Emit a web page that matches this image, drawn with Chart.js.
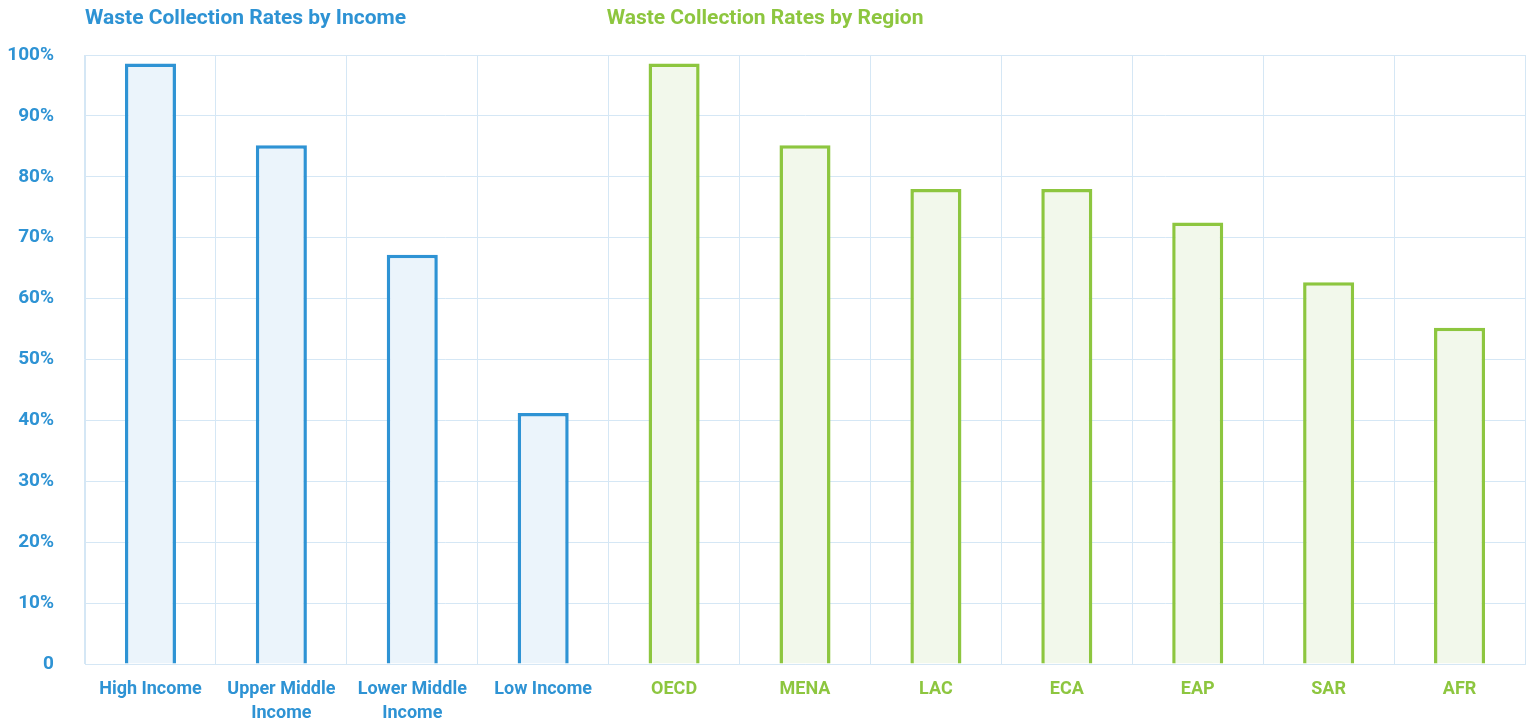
<!DOCTYPE html>
<html>
<head>
<meta charset="utf-8">
<script src="https://cdn.jsdelivr.net/npm/chart.js@4/dist/chart.umd.min.js"></script>
<style>
  html, body { margin: 0; padding: 0; background: #fff; }
  #wrap { width: 1531px; height: 721px; position: relative; }
</style>
</head>
<body>
<div id="wrap"><canvas id="chart"></canvas></div>
<script>
// Datos
const incomeGroups = [['High Income'], ['Upper Middle', 'Income'], ['Lower Middle', 'Income'], ['Low Income']];
const incomeRates = [98.6, 85.2, 67.2, 41.2];
const regionGroups = ['OECD', 'MENA', 'LAC', 'ECA', 'EAP', 'SAR', 'AFR'];
const regionRates = [98.6, 85.2, 78, 78, 72.5, 62.7, 55.2];
const yTicks = [0, 10, 20, 30, 40, 50, 60, 70, 80, 90, 100];

const BLUE = '#2e93d4';
const GREEN = '#8dc63f';
const BLUE_FILL = '#ebf4fb';
const GREEN_FILL = '#f2f8eb';
const GRID = '#d5e7f5';
const FONT = 'Roboto, "Liberation Sans", sans-serif';

const labels = [...incomeGroups, ...regionGroups];
const values = [...incomeRates, ...regionRates];
const isIncome = labels.map((_, i) => i < incomeGroups.length);

// Títulos encima de cada grupo
const groupTitles = {
    id: 'groupTitles',
    afterDraw(chart) {
        const { ctx, chartArea, scales } = chart;
        const x = scales.x;
        const half = (x.getPixelForValue(1) - x.getPixelForValue(0)) / 2;
        ctx.save();
        ctx.font = 'bold 21px ' + FONT;
        ctx.textBaseline = 'middle';
        ctx.fillStyle = BLUE;
        ctx.fillText('Waste Collection Rates by Income', chartArea.left, 19);
        ctx.fillStyle = GREEN;
        ctx.fillText('Waste Collection Rates by Region', x.getPixelForValue(incomeGroups.length) - half - 2, 19);
        ctx.restore();
    }
};

new Chart(document.getElementById('chart'), {
    type: 'bar',
    data: {
        labels: labels,
        datasets: [{
            data: values,
            backgroundColor: isIncome.map(b => b ? BLUE_FILL : GREEN_FILL),
            borderColor: isIncome.map(b => b ? BLUE : GREEN),
            borderWidth: 3.5,
            barPercentage: 0.39,
            categoryPercentage: 1
        }]
    },
    options: {
        responsive: true,
        maintainAspectRatio: false,
        animation: false,
        layout: { padding: { top: 55, right: 6, left: 0, bottom: 0 } },
        plugins: {
            legend: { display: false },
            tooltip: { enabled: false }
        },
        scales: {
            x: {
                grid: {
                    offset: true,
                    drawTicks: false,
                    color: ctx => ctx.index === labels.length ? 'rgba(0,0,0,0)' : GRID,
                    lineWidth: 1
                },
                border: { color: GRID },
                ticks: {
                    padding: 14,
                    font: { family: FONT, size: 18, weight: 'bold', lineHeight: 1.33 },
                    color: ctx => isIncome[ctx.index] ? BLUE : GREEN,
                    maxRotation: 0,
                    autoSkip: false
                },
                afterFit(scale) { scale.height = 57; }
            },
            y: {
                min: 0,
                max: 100,
                afterBuildTicks(scale) { scale.ticks = yTicks.map(v => ({ value: v })); },
                grid: { drawTicks: false, color: GRID, lineWidth: 1 },
                border: { color: GRID },
                ticks: {
                    padding: 31,
                    font: { family: FONT, size: 19, weight: 'bold' },
                    color: BLUE,
                    callback: v => v === 0 ? '0' : v + '%'
                },
                afterFit(scale) { scale.width = 85; }
            }
        }
    },
    plugins: [groupTitles]
});
</script>
</body>
</html>
